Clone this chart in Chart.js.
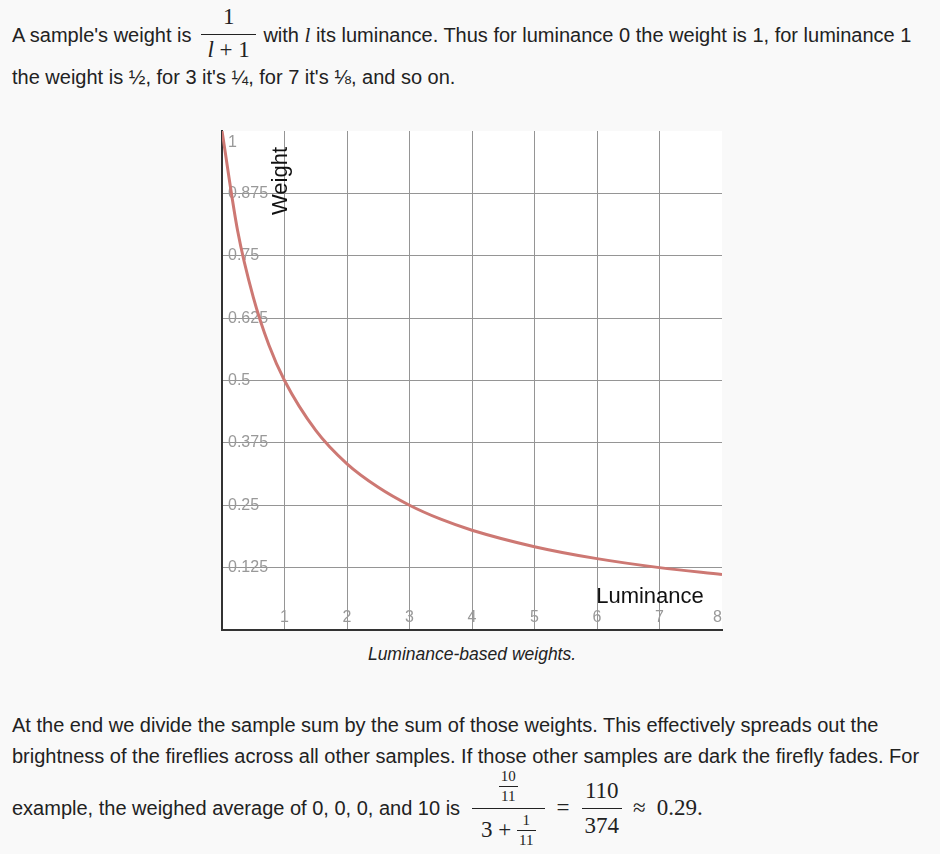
<!DOCTYPE html>
<html>
<head>
<meta charset="utf-8">
<script src="https://cdn.jsdelivr.net/npm/chart.js@4"></script>
<style>
html, body { margin: 0; padding: 0; background: #f9f9f9; }
body { width: 940px; height: 854px; position: relative; overflow: hidden;
  font-family: Arial, "Liberation Sans", sans-serif; font-size: 20px; color: #222; }
.line { position: absolute; left: 12px; white-space: nowrap; line-height: 24px; }
.fl { position: absolute; left: 12px; white-space: nowrap; line-height: 24px;
  display: flex; align-items: center; }
.m { font-family: "Liberation Serif", "DejaVu Serif", serif; font-size: 23px; }
.frac { display: inline-flex; flex-direction: column; text-align: center; }
.frac > span { display: flex; justify-content: center; align-items: center; line-height: 26px; }
.frac > .den { border-top: 1px solid #222; }
.frac.small { font-size: 15px; }
.frac.small > span { line-height: 17px; padding: 0 2px; }
.frac.small > .num { padding-bottom: 1px; }
.frac.small > .den { padding-top: 1px; }
#f1 { margin: 0 2px 0 10px; position: relative; top: -2px; }
#f1 > span { padding: 0 6px; }
#f1 > .num { padding-bottom: 4px; }
#f1 > .den { padding-top: 2px; }
#f2 { margin-left: 12px; }
#f2 > span { padding: 0 9px; }
#f2 > .num { padding-bottom: 3px; }
#f2 > .den { padding-top: 3px; }
#f3 { margin-left: 12px; }
#f3 > span { padding: 0 3px; }
#f3 > .num { padding-bottom: 4px; }
#f3 > .den { padding-top: 4px; }
#wrap { position: absolute; left: 220px; top: 129px; width: 504px; height: 503px; }
#caption { position: absolute; left: 222px; width: 500px; top: 644px; text-align: center;
  font-style: italic; font-size: 17.5px; }
</style>
</head>
<body>
<div class="fl" style="top:5px;height:60px"><span>A sample's weight is</span><span class="frac m" id="f1"><span class="num">1</span><span class="den"><i>l</i>&nbsp;+&nbsp;1</span></span><span>&nbsp;with <i class="m" style="font-size:21px">l</i> its luminance. Thus for luminance 0 the weight is 1, for luminance 1</span></div>
<div class="line" style="top:65px">the weight is ½, for 3 it's ¼, for 7 it's ⅛, and so on.</div>

<div id="wrap"><canvas id="weightChart" width="504" height="503"></canvas></div>
<div id="caption">Luminance-based weights.</div>

<div class="line" style="top:713px">At the end we divide the sample sum by the sum of those weights. This effectively spreads out the</div>
<div class="line" style="top:744px">brightness of the fireflies across all other samples. If those other samples are dark the firefly fades. For</div>
<div class="fl" style="top:768px;height:80px"><span>example, the weighed average of 0, 0, 0, and 10 is</span><span class="frac m" id="f2"><span class="num"><span class="frac small"><span class="num">10</span><span class="den">11</span></span></span><span class="den">3&nbsp;+&nbsp;<span class="frac small"><span class="num">1</span><span class="den">11</span></span></span></span><span class="m" style="margin-left:12px">=</span><span class="frac m" id="f3"><span class="num">110</span><span class="den">374</span></span><span class="m" style="margin-left:11px">≈</span><span class="m" style="margin-left:11px">0.29.</span></div>

<script>
// valores
const luminance = [0, 0.25, 0.5, 0.75, 1, 1.5, 2, 2.5, 3, 3.5, 4, 5, 6, 7, 8];
const weight = [1, 0.8, 0.667, 0.571, 0.5, 0.4, 0.333, 0.286, 0.25, 0.222, 0.2, 0.167, 0.143, 0.125, 0.111];
const xTickLabels = ['', '1', '2', '3', '4', '5', '6', '7', '8'];
const yTickLabels = ['', '0.125', '0.25', '0.375', '0.5', '0.625', '0.75', '0.875', ['', '1']];

// fondo blanco solo en el area del grafico
const fondoBlanco = {
    id: 'fondoBlanco',
    beforeDraw(chart) {
        const {ctx, chartArea: a} = chart;
        ctx.save();
        ctx.fillStyle = '#ffffff';
        ctx.fillRect(a.left, a.top, a.right - a.left, a.bottom - a.top);
        ctx.restore();
    }
};

// titulos de los ejes dibujados dentro del area
const titulosEjes = {
    id: 'titulosEjes',
    afterDraw(chart) {
        const {ctx, chartArea: a} = chart;
        ctx.save();
        ctx.fillStyle = '#111';
        ctx.font = '22px Arial, "Liberation Sans", sans-serif';
        ctx.textAlign = 'center';
        ctx.textBaseline = 'alphabetic';
        ctx.fillText('Luminance', a.left + 428, a.bottom - 27);
        ctx.translate(a.left + 65, a.top + 50);
        ctx.rotate(-Math.PI / 2);
        ctx.fillText('Weight', 0, 0);
        ctx.restore();
    }
};

// sin huecos: el area del grafico ocupa todo el canvas
function sinHueco(s) {
    if (s.isHorizontal()) {
        s.height = 0;
    } else {
        s.width = 0;
    }
    s.paddingTop = 0;
    s.paddingBottom = 0;
    s.paddingLeft = 0;
    s.paddingRight = 0;
}

const gridColor = '#959595';
const tickFamily = 'Arial, "Liberation Sans", sans-serif';

const ctx = document.getElementById('weightChart').getContext('2d');
new Chart(ctx, {
    type: 'line',
    data: {
        datasets: [{
            data: luminance.map((l, i) => ({x: l, y: weight[i]})),
            borderColor: 'rgb(205, 120, 115)',
            borderWidth: 3,
            pointRadius: 0,
            fill: false,
            cubicInterpolationMode: 'monotone'
        }]
    },
    options: {
        responsive: false,
        animation: false,
        layout: {padding: 2},
        plugins: {legend: {display: false}, tooltip: {enabled: false}},
        scales: {
            x: {
                type: 'linear',
                min: 0,
                max: 8,
                afterFit: sinHueco,
                border: {color: '#333', width: 2},
                grid: {
                    color: c => (c.tick && c.tick.value === 8) ? 'rgba(0,0,0,0)' : gridColor,
                    drawTicks: false
                },
                ticks: {
                    stepSize: 1,
                    mirror: true,
                    padding: 3,
                    align: 'inner',
                    color: '#999',
                    font: {size: 16, family: tickFamily},
                    callback: (v, i) => xTickLabels[i]
                }
            },
            y: {
                min: 0,
                max: 1,
                afterFit: sinHueco,
                border: {color: '#333', width: 2},
                grid: {
                    color: c => (c.tick && c.tick.value === 1) ? 'rgba(0,0,0,0)' : gridColor,
                    drawTicks: false
                },
                ticks: {
                    stepSize: 0.125,
                    mirror: true,
                    padding: 6,
                    color: '#999',
                    font: {size: 16, family: tickFamily, lineHeight: 1.4},
                    callback: (v, i) => yTickLabels[i]
                }
            }
        }
    },
    plugins: [fondoBlanco, titulosEjes]
});
</script>
</body>
</html>
